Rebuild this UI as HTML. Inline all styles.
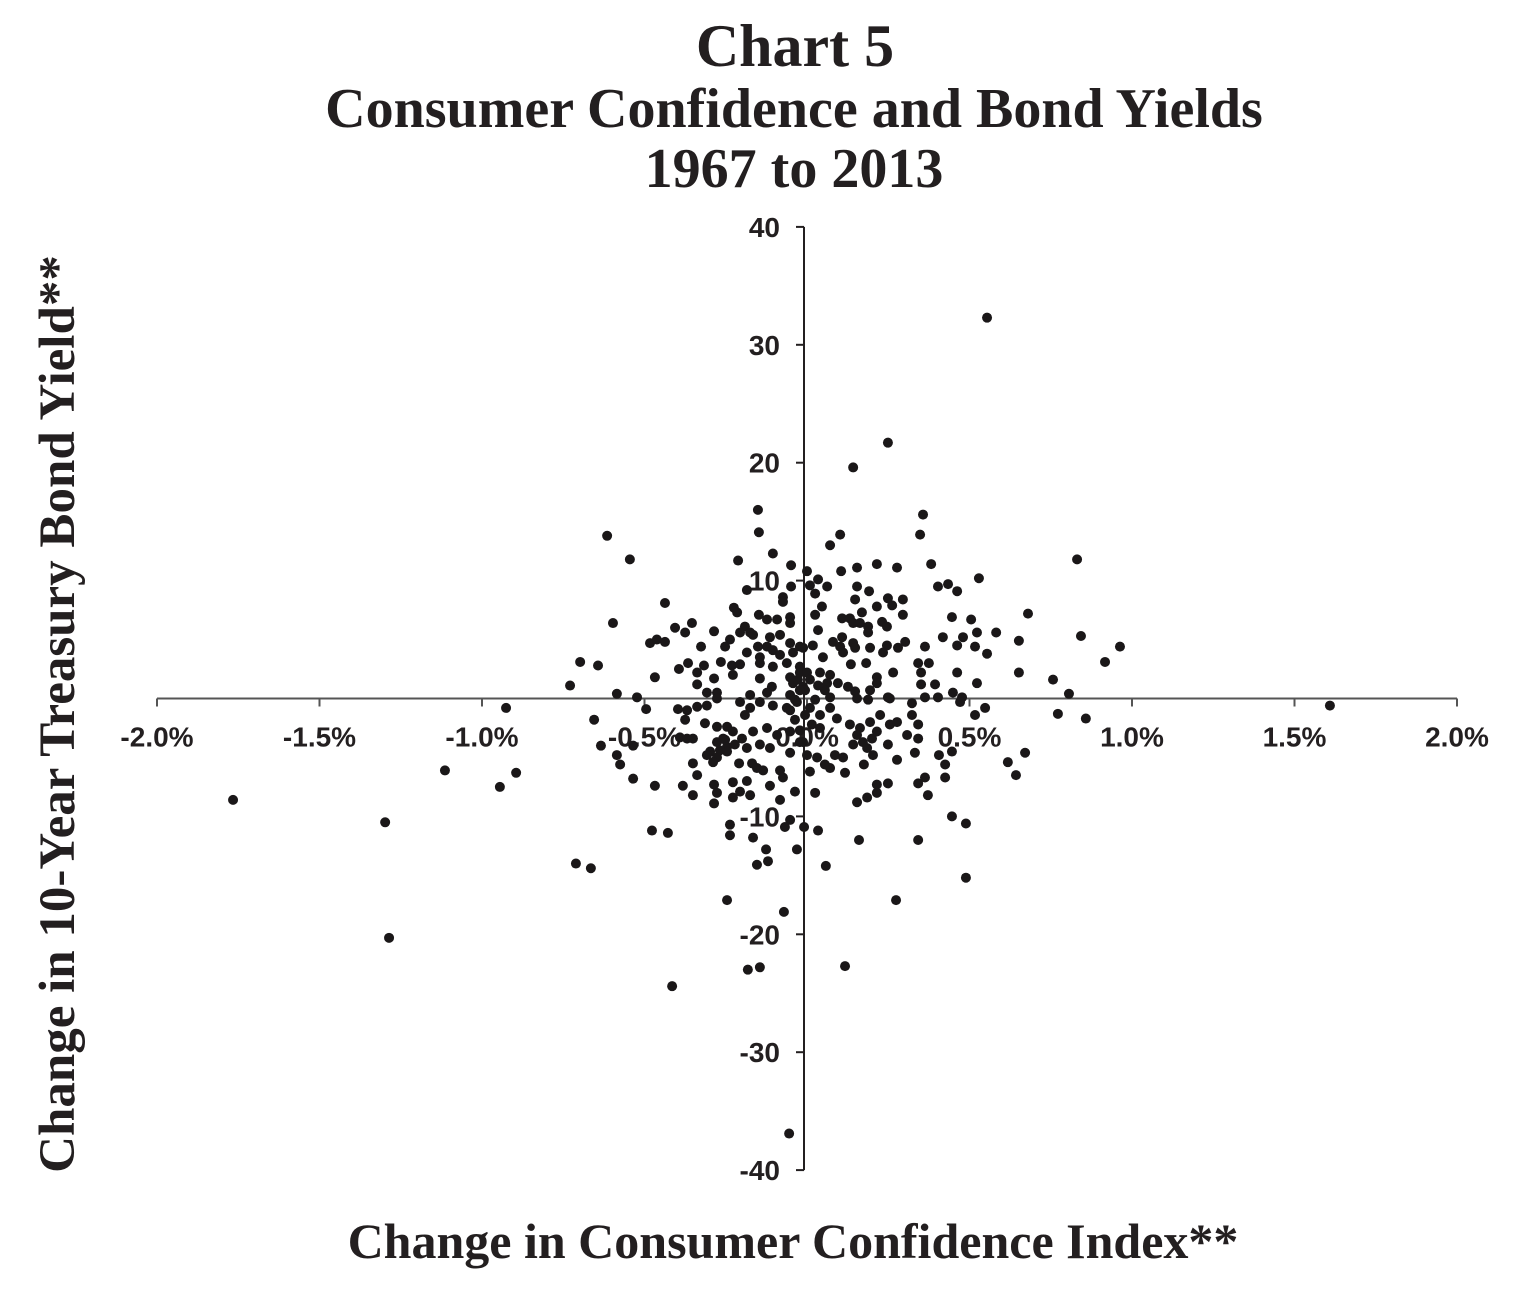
<!DOCTYPE html>
<html><head><meta charset="utf-8"><style>
html,body{margin:0;padding:0;background:#fff;}
svg{display:block;}
.t{font-family:"Liberation Serif",serif;font-weight:bold;fill:#231f20;}
.tk{font-family:"Liberation Sans",sans-serif;font-weight:bold;font-size:28px;fill:#231f20;}
</style></head><body>
<svg id="chart" width="1520" height="1298" viewBox="0 0 1520 1298" xmlns="http://www.w3.org/2000/svg">
<text class="t" x="795" y="66" font-size="60" text-anchor="middle">Chart 5</text>
<text class="t" x="794" y="127" font-size="56" text-anchor="middle">Consumer Confidence and Bond Yields</text>
<text class="t" x="794" y="187" font-size="56" text-anchor="middle">1967 to 2013</text>
<text class="t" transform="translate(74,714) rotate(-90)" font-size="51" text-anchor="middle">Change in 10-Year Treasury Bond Yield**</text>
<text class="t" x="793" y="1258" font-size="50" text-anchor="middle">Change in Consumer Confidence Index**</text>
<g id="axes"></g>
<g id="points"></g>
</svg>
<script>
const xTicks=[-2.0,-1.5,-1.0,-0.5,0,0.5,1.0,1.5,2.0];
const xTickLabels=["-2.0%","-1.5%","-1.0%","-0.5%","0.0%","0.5%","1.0%","1.5%","2.0%"];
const yTicks=[40,30,20,10,-10,-20,-30,-40];
const yTickLabels=["40","30","20","10","-10","-20","-30","-40"];
const confX=[0.554,0.249,0.142,-0.151,0.357,-0.615,-0.545,0.831,0.102,0.071,0.348,0.529,0.68,0.843,0.963,0.917,0.757,0.806,0.772,0.858,1.609,-0.729,-0.698,-0.643,-0.926,-1.766,-1.114,-0.945,-0.895,-1.298,-1.286,-0.711,-0.665,-0.477,-0.428,-0.415,-0.246,-0.182,-0.145,-0.071,-0.055,0.117,0.274,0.058,-0.031,-0.126,-0.12,0.034,-0.009,0.16,0.342,0.489,0.489,0.446,0.643,0.618,0.671,
-0.148,-0.105,-0.212,-0.049,-0.185,-0.049,-0.074,-0.074,-0.437,-0.225,-0.215,-0.148,-0.052,-0.052,-0.123,-0.092,-0.597,-0.406,-0.375,-0.354,-0.286,-0.191,-0.175,-0.206,-0.114,-0.083,-0.166,-0.483,-0.462,-0.437,-0.237,-0.252,-0.326,-0.151,-0.123,-0.105,-0.052,-0.022,-0.185,-0.145,-0.083,-0.043,-0.366,-0.317,-0.265,-0.231,-0.206,-0.145,-0.105,-0.062,-0.022,-0.394,-0.338,-0.228,-0.145,-0.052,-0.022,-0.468,-0.286,-0.338,-0.108,-0.043,-0.012,-0.585,-0.523,-0.308,-0.277,-0.175,-0.123,-0.052,
0.215,0.154,0.277,0.105,0.382,0.0,0.034,0.009,0.062,0.154,0.191,0.403,0.434,0.462,0.025,0.148,0.249,0.295,0.262,0.215,0.046,0.025,0.169,0.295,0.108,0.132,0.142,0.163,0.446,0.505,0.231,0.246,0.188,0.188,0.034,0.418,0.480,0.523,0.582,0.652,0.108,0.080,0.142,0.148,0.102,0.194,0.246,0.280,0.302,0.363,0.462,0.517,0.554,0.018,-0.012,0.049,0.111,0.234,0.135,0.182,0.342,0.375,0.265,0.351,0.462,0.652,0.040,0.071,0.0,0.215,0.215,0.062,0.095,0.126,0.351,0.394,0.523,-0.006,0.148,0.194,0.249,0.363,0.403,0.449,0.477,0.071,
-0.495,-0.397,-0.369,-0.338,-0.308,-0.277,-0.206,-0.175,-0.145,-0.105,-0.062,-0.031,-0.655,-0.375,-0.314,-0.277,-0.246,-0.228,-0.200,-0.166,-0.123,-0.092,-0.052,-0.022,-0.391,-0.369,-0.351,-0.634,-0.535,-0.277,-0.258,-0.246,-0.298,-0.308,-0.277,-0.289,-0.246,-0.185,-0.145,-0.114,-0.052,-0.585,-0.575,-0.351,-0.338,-0.209,-0.169,-0.154,-0.135,-0.083,-0.074,-0.535,-0.468,-0.382,-0.351,-0.286,-0.277,-0.228,-0.185,-0.228,-0.206,-0.175,-0.114,-0.037,-0.286,-0.083,-0.052,-0.068,-0.237,-0.237,-0.166,-0.154,
0.154,0.188,0.255,0.323,0.471,0.517,0.548,0.009,0.071,0.092,0.040,0.132,0.163,0.194,0.225,0.154,0.172,0.200,0.215,0.255,0.277,0.323,0.342,0.308,0.342,0.142,0.185,0.203,0.249,-0.012,0.0,0.031,0.086,0.111,0.055,0.071,0.117,0.175,0.277,0.332,0.406,0.446,0.425,0.425,0.363,0.342,0.249,0.215,0.215,0.185,0.154,0.372,0.025,0.009,
-0.022,0.009,-0.037,0.025,-0.006,-0.037,0.040,-0.022,0.015,-0.052,0.055,-0.028,0.034,-0.191,-0.222,-0.252,-0.268];
const yieldY=[32.3,21.7,19.6,16.0,15.6,13.8,11.8,11.8,13.9,13.0,13.9,10.2,7.2,5.3,4.4,3.1,1.6,0.4,-1.3,-1.7,-0.6,1.1,3.1,2.8,-0.8,-8.6,-6.1,-7.5,-6.3,-10.5,-20.3,-14.0,-14.4,-11.2,-11.4,-24.4,-17.1,-23.0,-22.8,-18.1,-36.9,-22.7,-17.1,-14.2,-12.8,-12.8,-13.8,-11.2,-10.9,-12.0,-12.0,-10.6,-15.2,-10.0,-6.5,-5.4,-4.6,
14.1,12.3,11.7,11.3,9.2,9.5,8.6,8.2,8.1,7.7,7.3,7.1,6.9,6.4,6.7,6.7,6.4,6.0,5.6,6.4,5.7,6.1,5.6,5.6,5.2,5.4,5.4,4.7,5.0,4.8,5.0,4.4,4.4,4.4,4.4,4.1,4.7,4.4,3.9,3.5,3.7,3.9,3.0,2.8,3.1,2.8,2.9,3.0,2.7,3.0,2.7,2.5,2.2,2.0,1.7,1.8,2.2,1.8,1.7,1.2,1.0,1.3,1.0,0.4,0.1,0.5,0.5,0.3,0.5,0.3,
11.4,11.1,11.1,10.8,11.4,10.8,10.1,9.6,9.5,9.5,9.1,9.5,9.7,9.1,8.9,8.4,8.5,8.4,7.9,7.8,7.8,7.1,7.3,7.1,6.8,6.8,6.4,6.4,6.9,6.7,6.5,6.1,6.1,5.6,5.8,5.2,5.2,5.6,5.6,4.9,5.2,4.8,4.7,4.3,4.4,4.3,4.5,4.3,4.8,4.4,4.5,4.4,3.8,4.5,4.3,3.5,3.9,3.9,2.9,3.0,3.0,3.0,2.2,2.2,2.2,2.2,2.2,2.0,2.2,1.8,1.3,1.3,1.3,1.0,1.2,1.2,1.3,0.7,0.6,0.7,0.1,0.1,0.1,0.5,0.1,0.1,
-0.9,-0.9,-1.0,-0.7,-0.6,0.0,-0.3,-0.8,-0.3,-0.6,-0.8,-0.3,-1.8,-1.8,-2.1,-2.4,-2.4,-2.8,-3.4,-2.8,-2.5,-3.1,-2.8,-3.7,-3.3,-3.4,-3.4,-4.0,-4.0,-3.7,-3.4,-4.1,-4.5,-4.8,-5.0,-5.4,-4.5,-4.2,-3.9,-4.2,-4.6,-4.8,-5.6,-5.5,-6.5,-5.5,-5.5,-5.9,-6.1,-6.1,-6.7,-6.8,-7.4,-7.4,-8.2,-7.3,-8.0,-7.1,-7.0,-8.4,-7.9,-8.2,-7.4,-7.9,-8.9,-8.6,-10.3,-10.9,-10.7,-11.6,-11.8,-14.1,
0.0,-0.1,0.0,-0.4,-0.3,-1.4,-0.8,-0.8,-0.8,-1.7,-2.5,-2.2,-2.5,-2.0,-1.4,-3.1,-3.7,-3.4,-2.8,-2.2,-2.0,-1.4,-2.2,-3.1,-3.4,-3.9,-4.2,-4.8,-3.9,-3.7,-4.8,-5.0,-4.8,-5.0,-5.6,-5.9,-6.3,-5.6,-5.2,-4.6,-4.8,-4.5,-5.6,-6.7,-6.7,-7.2,-7.2,-7.3,-8.0,-8.4,-8.8,-8.2,-8.0,-6.2,
0.7,1.6,-0.1,-0.1,-1.4,-1.8,-1.4,-2.7,-2.2,-1.0,0.7,1.6,1.1,-1.4,-3.9,-3.5,-4.4];

const X0=807, XS=325, Y0=698.5, YS=11.79, YAX=804;
function sx(v){return X0+v*XS;}
function sy(v){return Y0-v*YS;}
const NS="http://www.w3.org/2000/svg";
const axes=document.getElementById('axes');
function mk(tag,attrs,parent){const e=document.createElementNS(NS,tag);for(const k in attrs)e.setAttribute(k,attrs[k]);parent.appendChild(e);return e;}
let l=mk('line',{x1:sx(-2),x2:sx(2),y1:Y0,y2:Y0,stroke:'#555',"stroke-width":2},axes);


l=mk('line',{x1:YAX,x2:YAX,y1:sy(40),y2:sy(-40),stroke:'#231f20',"stroke-width":2},axes);


xTicks.forEach((v,i)=>{
  const t=mk('line',{x1:sx(v),x2:sx(v),y1:Y0,y2:Y0+8,stroke:'#555',"stroke-width":2},axes);
  
  
  const tx=mk('text',{x:sx(v),y:Y0+48,"text-anchor":"middle","class":"tk"},axes);
  tx.textContent=xTickLabels[i];
  
  
});
yTicks.forEach((v,i)=>{
  const t=mk('line',{x1:YAX-8,x2:YAX,y1:sy(v),y2:sy(v),stroke:'#231f20',"stroke-width":2},axes);
  
  
  const tx=mk('text',{x:YAX-24,y:sy(v)+10,"text-anchor":"end","class":"tk"},axes);
  tx.textContent=yTickLabels[i];
  
  
});
const pts=document.getElementById('points');
for(let i=0;i<confX.length&&i<yieldY.length;i++){
  const c=mk('circle',{cx:sx(confX[i]),cy:sy(yieldY[i]),r:5,fill:'#1a1718'},pts);
  
  
}
</script>
</body></html>
